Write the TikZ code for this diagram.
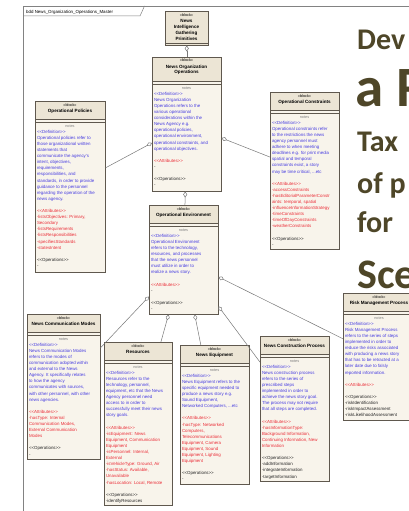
\documentclass[tikz,border=0pt]{standalone}
\usepackage{fontspec}
\setmainfont{Liberation Sans}
\newfontfamily\slidefont{Carlito}
\usetikzlibrary{arrows.meta,shadows}
\definecolor{bcol}{RGB}{95,88,78}
\definecolor{bodyc}{RGB}{248,244,235}
\definecolor{hdrc}{RGB}{236,229,213}
\definecolor{defblue}{RGB}{70,60,225}
\definecolor{attrred}{RGB}{235,45,55}
\definecolor{conncol}{RGB}{120,120,120}
\definecolor{framec}{RGB}{130,130,130}
\definecolor{titlec}{RGB}{78,70,40}
\newcommand\dl{<\kern0pt<}
\newcommand\dr{>\kern0pt>}
\tikzset{
 blk/.style={draw=bcol, fill=bodyc, line width=0.5pt, anchor=north west, inner sep=0pt,
   drop shadow={shadow xshift=1.2pt, shadow yshift=-1.2pt, fill=black!45, opacity=0.6}},
 stereo/.style={font=\fontsize{3.8}{4.5}\selectfont, anchor=base, inner sep=0pt},
 ttl/.style={font=\bfseries\fontsize{4.6}{6}\selectfont, anchor=base, inner sep=0pt},
 notesl/.style={font=\fontsize{3.8}{4.5}\selectfont, text=gray, anchor=base, inner sep=0pt},
 ctext/.style={font=\fontsize{4.4}{6.1}\selectfont, anchor=north west, inner sep=0pt, align=left, yshift=4.27pt},
 dtxt/.style={ctext, text=defblue},
 atxt/.style={ctext, text=attrred},
 otxt/.style={ctext, text=black!85},
 sepl/.style={draw=bcol, line width=0.4pt},
 agg/.style={draw=conncol, line width=0.5pt, {Diamond[fill=white,length=6pt,width=4pt]}-},
 big/.style={font=\slidefont\bfseries, text=titlec, anchor=base west, inner sep=0pt}
}
\newcommand\ubox[6]{%
 \node[blk, minimum width=#4pt, minimum height=#5pt] (#1) at (#2,#3) {};
 \fill[hdrc] ([shift={(0.25pt,-0.25pt)}]#1.north west) rectangle ([shift={(-0.25pt,-#6pt)}]#1.north east);
 \draw[sepl] ([yshift=-#6pt]#1.north west) -- ([yshift=-#6pt]#1.north east);
 \draw[sepl] ([yshift=-#6pt-3pt]#1.north west) -- ([yshift=-#6pt-3pt]#1.north east);
 \draw[sepl] (#1.north west) rectangle (#1.south east);
}
\begin{document}
\begin{tikzpicture}[x=1pt,y=-1pt]
\useasboundingbox (0,0) rectangle (409,511);
\clip (0,0) rectangle (409,511);
\fill[white] (0,0) rectangle (409,511);
% frame
\draw[framec, line width=0.6pt] (23.5,511) -- (23.5,6) -- (409,6);
\draw[framec, line width=0.5pt] (23.5,16) -- (140,16) -- (144.5,6);
\node[anchor=base west, inner sep=0pt, font=\fontsize{4.4}{5}\selectfont] (lbl) at (26,13.5) {bdd News\_Organization\_Operations\_Master};

% Primitives
\node[blk, minimum width=43pt, minimum height=34pt] (prim) at (165,11) {};
\fill[hdrc] ([shift={(0.25pt,-0.25pt)}]prim.north west) rectangle ([shift={(-0.25pt,0.25pt)}]prim.south east);
\draw[sepl] (prim.north west) rectangle (prim.south east);
\draw[sepl] ([yshift=2pt]prim.south west) -- ([yshift=2pt]prim.south east);
\node[stereo] (prim-b) at (186.5,16.5) {«block»};
\node[ttl] (prim-t1) at (186.5,23) {News};
\node[ttl] (prim-t2) at (186.5,29) {Intelligence};
\node[ttl] (prim-t3) at (186.5,35) {Gathering};
\node[ttl] (prim-t4) at (186.5,41) {Primitives};

% News Organization Operations
\ubox{noo}{152}{57}{69}{134}{24}
\node[stereo] (noo-b) at (186.5,62) {«block»};
\node[ttl] (noo-t1) at (186.5,68) {News Organization};
\node[ttl] (noo-t2) at (186.5,74) {Operations};
\node[notesl] (noo-n) at (186.5,89) {notes};
\node[dtxt] (noo-d) at (153.8,95) {\strut\dl Definition\dr\\News Organization\\Operations refers to the\\various operational\\considerations within the\\News Agency e.g.\\operational policies,\\operational environment,\\operational constraints, and\\operational objectives.};
\node[atxt] (noo-a) at (153.8,162.1) {\strut\dl Attributes\dr};
\node[otxt] (noo-a2) at (153.8,168.2) {\strut-};
\node[otxt] (noo-o) at (153.8,180.4) {\strut\dl Operations\dr\\-};

% Operational Policies
\ubox{pol}{35}{101}{70}{171}{18}
\node[stereo] (pol-b) at (70,106) {«block»};
\node[ttl] (pol-t) at (70,112) {Operational Policies};
\node[notesl] (pol-n) at (70,127) {notes};
\node[dtxt] (pol-d) at (36.8,133) {\strut\dl Definition\dr\\Operational policies refer to\\those organizational written\\statements that\\communicate the agency's\\intent, objectives,\\requirements,\\responsibilities, and\\standards, in order to provide\\guidance to the personnel\\regarding the operation of the\\news agency.};
\node[atxt] (pol-a) at (36.8,212.3) {\strut\dl Attributes\dr\\-listsObjectives: Primary,\\Secondary\\-listsRequirements\\-listsResponsibilities\\-specifiesStandards\\-statesIntent};
\node[otxt] (pol-o) at (36.8,261.1) {\strut\dl Operations\dr\\-};

% Operational Constraints
\ubox{con}{270}{92}{69}{157}{18}
\node[stereo] (con-b) at (304.5,97) {«block»};
\node[ttl] (con-t) at (304.5,103) {Operational Constraints};
\node[notesl] (con-n) at (304.5,118) {notes};
\node[dtxt] (con-d) at (271.8,124) {\strut\dl Definition\dr\\Operational constraints refer\\to the restrictions the news\\agency personnel must\\adhere to when meeting\\deadlines e.g. for print media\\spatial and temporal\\constraints exist, a story\\may be time critical, ...etc};
\node[atxt] (con-a) at (271.8,185) {\strut\dl Attributes\dr\\-accessConstraints\\-hasEditorialParameterConstr\\aints: temporal, spatial\\-influenceInformationStrategy\\-timeConstraints\\-timeOfDayConstraints\\-weatherConstraints};
\node[otxt] (con-o) at (271.8,239.9) {\strut\dl Operations\dr\\-};

% Operational Environment
\ubox{oe}{149}{205}{69}{109}{18}
\node[stereo] (oe-b) at (183.5,210) {«block»};
\node[ttl] (oe-t) at (183.5,216) {Operational Environment};
\node[notesl] (oe-n) at (183.5,231) {notes};
\node[dtxt] (oe-d) at (150.8,237) {\strut\dl Definition\dr\\Operational Environment\\refers to the technology,\\resources, and processes\\that the news personnel\\must utilize in order to\\realize a news story.};
\node[atxt] (oe-a) at (150.8,286) {\strut\dl Attributes\dr};
\node[otxt] (oe-a2) at (150.8,292.1) {\strut-};
\node[otxt] (oe-o) at (150.8,304.3) {\strut\dl Operations\dr\\-};

% News Communication Modes
\ubox{ncm}{27}{314}{73}{145}{18}
\node[stereo] (ncm-b) at (63.5,319) {«block»};
\node[ttl] (ncm-t) at (63.5,325) {News Communication Modes};
\node[notesl] (ncm-n) at (63.5,340) {notes};
\node[dtxt] (ncm-d) at (28.8,346) {\strut\dl Definition\dr\\News Communication Modes\\refers to the modes of\\communication adopted within\\and external to the News\\Agency. It specifically relates\\to how the agency\\communicates with sources,\\with other personnel, with other\\news agencies.};
\node[atxt] (ncm-a) at (28.8,413.1) {\strut\dl Attributes\dr\\-hasType: Internal\\Communication Modes,\\External Communication\\Modes};
\node[otxt] (ncm-o) at (28.8,449.7) {\strut\dl Operations\dr\\-};

% Resources
\ubox{res}{104}{342}{68}{163}{18}
\node[stereo] (res-b) at (138,347) {«block»};
\node[ttl] (res-t) at (138,353) {Resources};
\node[notesl] (res-n) at (138,368) {notes};
\node[dtxt] (res-d) at (105.8,374) {\strut\dl Definition\dr\\Resources refer to the\\technology, personnel,\\equipment, etc that the News\\Agency personnel need\\access to in order to\\successfully meet their news\\story goals.};
\node[atxt] (res-a) at (105.8,428.9) {\strut\dl Attributes\dr\\-isEquipment: News\\Equipment, Communication\\Equipment\\-isPersonnel: Internal,\\External\\-isVehicleType: Ground, Air\\-hasStatus: Available,\\Unavailable\\-hasLocation: Local, Remote};
\node[otxt] (res-o) at (105.8,496) {\strut\dl Operations\dr\\-identifyResources};

% News Equipment
\ubox{equ}{180}{345}{69}{139}{18}
\node[stereo] (equ-b) at (214.5,350) {«block»};
\node[ttl] (equ-t) at (214.5,356) {News Equipment};
\node[notesl] (equ-n) at (214.5,371) {notes};
\node[dtxt] (equ-d) at (181.8,377) {\strut\dl Definition\dr\\News Equipment refers to the\\specific equipment needed to\\produce a news story e.g.\\Sound Equipment,\\Networked Computers, ...etc};
\node[atxt] (equ-a) at (181.8,419.7) {\strut\dl Attributes\dr\\-hasType: Networked\\Computers,\\Telecommunications\\Equipment, Camera\\Equipment, Sound\\Equipment, Lighting\\Equipment};
\node[otxt] (equ-o) at (181.8,474.6) {\strut\dl Operations\dr\\-};

% News Construction Process
\ubox{ncp}{260}{336}{69}{145}{18}
\node[stereo] (ncp-b) at (294.5,341) {«block»};
\node[ttl] (ncp-t) at (294.5,347) {News Construction Process};
\node[notesl] (ncp-n) at (294.5,362) {notes};
\node[dtxt] (ncp-d) at (261.8,368) {\strut\dl Definition\dr\\News construction process\\refers to the series of\\prescribed steps\\implemented in order to\\achieve the news story goal.\\The process may not require\\that all steps are completed.};
\node[atxt] (ncp-a) at (261.8,422.9) {\strut\dl Attributes\dr\\-hasInformationType:\\Background Information,\\Continuing Information, New\\Information};
\node[otxt] (ncp-o) at (261.8,459.5) {\strut\dl Operations\dr\\-addInformation\\-integrateInformation\\-targetInformation};

% Risk Management Process
\ubox{risk}{343}{293}{72}{127}{18}
\node[stereo] (risk-b) at (379,298.5) {«block»};
\node[ttl] (risk-t) at (379,304) {Risk Management Process};
\node[notesl] (risk-n) at (379,319) {notes};
\node[dtxt] (risk-d) at (344.8,325) {\strut\dl Definition\dr\\Risk Management Process\\refers to the series of steps\\implemented in order to\\reduce the risks associated\\with producing a news story\\that has to be retracted at a\\later date due to falsly\\reported information.};
\node[atxt] (risk-a) at (344.8,386) {\strut\dl Attributes\dr};
\node[otxt] (risk-o) at (344.8,398.2) {\strut\dl Operations\dr\\-riskIdentification\\-riskImpactAssessment\\-riskLikelihoodAssessment};

% connectors
\draw[agg] (prim) -- (noo);
\draw[agg] (noo) -- (pol);
\draw[agg] (noo) -- (con);
\draw[agg] (noo) -- (oe);
\draw[agg] (oe) -- (ncm);
\draw[agg] (oe) -- (res);
\draw[agg] (oe) -- (equ);
\draw[agg] (oe) -- (ncp);
\draw[agg] (oe) -- (risk);

% slide title fragments
\node[big, font=\slidefont\bfseries\fontsize{30}{30}\selectfont] (s1) at (357,50) {Dev};
\node[big, font=\slidefont\bfseries\fontsize{57}{57}\selectfont] (s2) at (355,106) {a R};
\node[big, font=\slidefont\bfseries\fontsize{30}{30}\selectfont] (s3) at (357,151) {Tax};
\node[big, font=\slidefont\bfseries\fontsize{30}{30}\selectfont] (s4) at (357,193) {of p};
\node[big, font=\slidefont\bfseries\fontsize{30}{30}\selectfont] (s5) at (357,232) {for};
\node[big, font=\slidefont\bfseries\fontsize{42}{42}\selectfont] (s6) at (357,288.5) {Sce};
\end{tikzpicture}
\end{document}
